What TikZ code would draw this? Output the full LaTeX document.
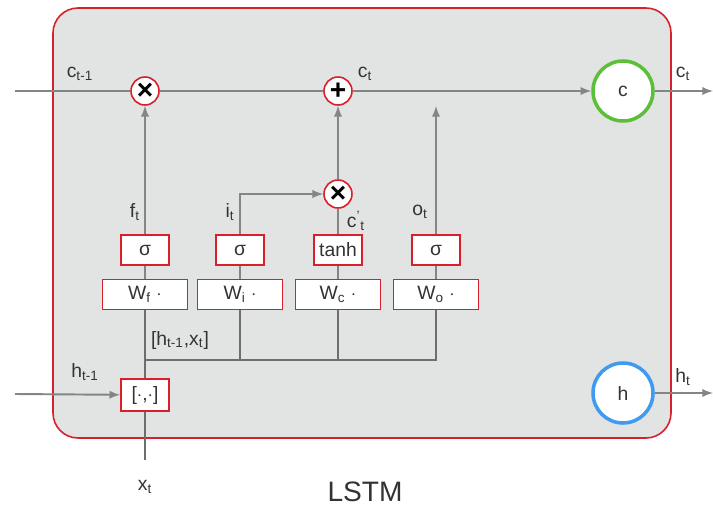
\documentclass[tikz,border=0pt]{standalone}
\usepackage{fontspec}
\setmainfont{Liberation Sans}
\usepackage{tikz}
\usetikzlibrary{shapes,arrows,positioning,calc}

\definecolor{cellred}{HTML}{D8202C}
\definecolor{cellgray}{HTML}{E2E3E3}
\definecolor{wiregray}{HTML}{858585}
\definecolor{busgray}{HTML}{6E6E6E}
\definecolor{txtgray}{HTML}{333333}
\definecolor{cgreen}{HTML}{5CBF38}
\definecolor{hblue}{HTML}{3E9BEF}

\begin{document}
\begin{tikzpicture}[
    font=\fontsize{11}{13}\selectfont, text=txtgray,
    op/.style={circle, draw=cellred, line width=0.9pt, fill=white,
               minimum size=0.56cm, inner sep=0pt, font=\bfseries\fontsize{16}{16}\selectfont, text=black},
    fn/.style={rectangle, draw=cellred, line width=0.9pt, fill=white,
               minimum width=0.96cm, minimum height=0.6cm, inner sep=1pt},
    wbox/.style={rectangle, draw=cellred, line width=0.9pt, fill=white,
                 minimum width=1.7cm, minimum height=0.6cm, inner sep=1pt},
    state/.style={circle, line width=2pt, fill=white, minimum size=1.2cm, inner sep=0pt},
    lbl/.style={inner sep=1pt},
    wire/.style={draw=wiregray, line width=1.1pt},
    arrow/.style={wire, ->, >=latex},
    bus/.style={draw=busgray, line width=0.8pt}
]
\useasboundingbox (0,0) rectangle (14.26,10.18);

% cell body
\draw[cellred, fill=cellgray, line width=0.9pt, rounded corners=0.5cm]
    (1.06,1.42) rectangle (13.42,10.02);

% gates on the cell line
\node[op] (mulf) at (2.9,8.36) {×};
\node[op] (addc) at (6.76,8.36) {+};
\node[op] (muli) at (6.76,6.3) {×};

% outputs
\node[state, draw=cgreen] (cnode) at (12.46,8.36) {c};
\node[state, draw=hblue] (hnode) at (12.46,2.32) {h};

% layers
\node[fn] (sigf) at (2.9,5.18) {σ};
\node[fn] (sigi) at (4.8,5.18) {σ};
\node[fn] (tanhc) at (6.76,5.18) {tanh};
\node[fn] (sigo) at (8.72,5.18) {σ};
\node[wbox, below=0.26cm of sigf] (wf) {W\textsubscript{f} $\cdot$};
\node[wbox, below=0.26cm of sigi] (wi) {W\textsubscript{i} $\cdot$};
\node[wbox, below=0.26cm of tanhc] (wc) {W\textsubscript{c} $\cdot$};
\node[wbox, below=0.26cm of sigo] (wo) {W\textsubscript{o} $\cdot$};
\node[fn, minimum height=0.64cm] (cat) at (2.9,2.28) {[$\cdot$,$\cdot$]};

% free ends
\coordinate (cin) at (0.3,8.36);
\coordinate (hin) at (0.3,2.3);
\coordinate (xin) at (2.9,0.98);
\coordinate (cout) at (14.26,8.36);
\coordinate (hout) at (14.26,2.32);
\coordinate (otip) at (8.72,8.06);
\coordinate (ielbow) at (4.8,6.3);
\coordinate (busl) at (2.9,2.98);
\coordinate (busr) at (8.72,2.98);

% cell state
\draw[wire] (cin) -- (mulf);
\draw[wire] (mulf) -- (addc);
\draw[arrow] (addc) -- (cnode);
\draw[arrow] (cnode) -- (cout);
\draw[arrow] (hnode) -- (hout);

% gate signals
\draw[arrow] (sigf) -- (mulf);
\draw[arrow] (sigi) -- (ielbow) -- (muli);
\draw[wire] (tanhc) -- (muli);
\draw[arrow] (muli) -- (addc);
\draw[arrow] (sigo) -- (otip);
\draw[wire] (wf) -- (sigf);
\draw[wire] (wi) -- (sigi);
\draw[wire] (wc) -- (tanhc);
\draw[wire] (wo) -- (sigo);

% inputs
\draw[arrow] (hin) -- (cat);
\draw[bus] (xin) -- (cat);
\draw[bus] (cat) -- (wf);
\draw[bus] (busl) -- (busr) -- (wo);
\foreach \n in {wi,wc}
    \draw[bus] (busl -| \n.south) -- (\n.south);

% labels
\node[lbl] at (1.6,8.7) {c\textsubscript{t-1}};
\node[lbl] at (7.3,8.7) {c\textsubscript{t}};
\node[lbl] at (13.66,8.7) {c\textsubscript{t}};
\node[lbl] at (2.7,5.94) {f\textsubscript{t}};
\node[lbl] at (4.6,5.94) {i\textsubscript{t}};
\node[lbl] at (7.12,5.76) {c\textsuperscript{'}\textsubscript{t}};
\node[lbl] at (8.4,5.94) {o\textsubscript{t}};
\node[lbl] at (3.6,3.38) {[h\textsubscript{t-1},x\textsubscript{t}]};
\node[lbl] at (1.7,2.74) {h\textsubscript{t-1}};
\node[lbl] at (13.66,2.64) {h\textsubscript{t}};
\node[lbl] at (2.9,0.44) {x\textsubscript{t}};
\node[lbl, font=\fontsize{16}{18}\selectfont] at (7.3,0.34) {LSTM};
\end{tikzpicture}
\end{document}
